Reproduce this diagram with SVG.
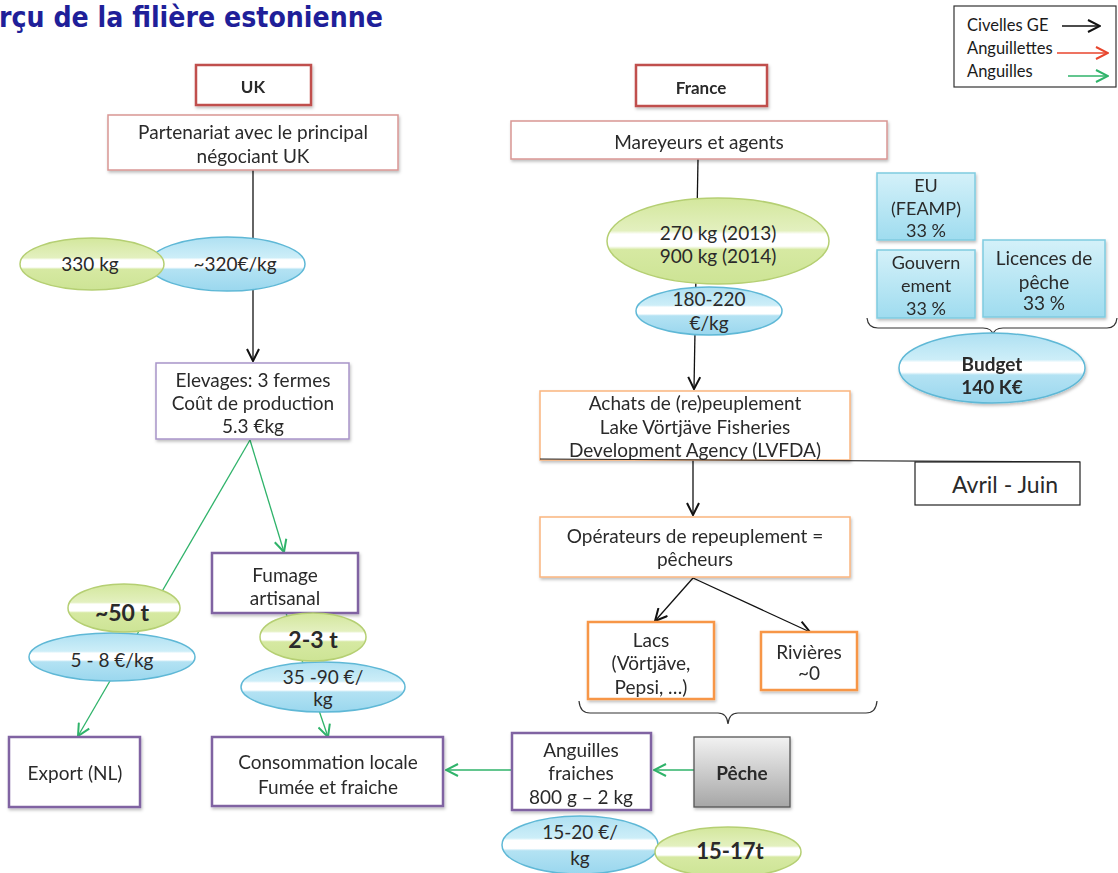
<svg xmlns="http://www.w3.org/2000/svg" width="1118" height="873" viewBox="0 0 1118 873">
<style>
text{font-family:Lato,"Liberation Sans",sans-serif;fill:#2a2a2a;font-size:19px;text-anchor:middle}
.b{font-weight:bold}
.big{font-weight:bold;font-size:23px}
.title{font-family:"DejaVu Sans","Liberation Sans",sans-serif;font-weight:bold;font-size:29px;fill:#1f1f99;text-anchor:start}
.leg{font-size:16.5px;text-anchor:start;fill:#1a1a1a}
.red2{fill:#fff;stroke:#c0504d;stroke-width:2.5}
.red1{fill:#fff;stroke:#d99694;stroke-width:1.5}
.pur1{fill:#fff;stroke:#a895c9;stroke-width:1.5}
.pur2{fill:#fff;stroke:#8064a2;stroke-width:2.5}
.or1{fill:#fff;stroke:#fab57f;stroke-width:1.5}
.or2{fill:#fff;stroke:#f79646;stroke-width:2.5}
.fund{fill:url(#gBlueBox);stroke:#7fcbe0;stroke-width:1.5}
.ft{font-size:18px}
.ge{fill:url(#gGreen);stroke:#b5cf73;stroke-width:1.5}
.be{fill:url(#gBlue);stroke:#5fb8d6;stroke-width:1.5}
.k{stroke:#111;stroke-width:1.3;fill:none}
.g{stroke:#2fb36a;stroke-width:1.3;fill:none}
.box{filter:url(#sh)}
</style>
<defs>
<linearGradient id="gGreen" x1="0" y1="0" x2="0" y2="1">
<stop offset="0" stop-color="#d3e79c"/>
<stop offset="0.38" stop-color="#e3f0bf"/>
<stop offset="0.42" stop-color="#ffffff"/>
<stop offset="0.56" stop-color="#ffffff"/>
<stop offset="0.6" stop-color="#d6e9a2"/>
<stop offset="1" stop-color="#cde495"/>
</linearGradient>
<linearGradient id="gBlue" x1="0" y1="0" x2="0" y2="1">
<stop offset="0" stop-color="#aee0f2"/>
<stop offset="0.38" stop-color="#cdeef8"/>
<stop offset="0.42" stop-color="#ffffff"/>
<stop offset="0.56" stop-color="#ffffff"/>
<stop offset="0.6" stop-color="#b3e2f3"/>
<stop offset="1" stop-color="#9ad7ee"/>
</linearGradient>
<linearGradient id="gBlueBox" x1="0" y1="0" x2="0" y2="1">
<stop offset="0" stop-color="#d4f1f9"/>
<stop offset="1" stop-color="#9fdcef"/>
</linearGradient>
<linearGradient id="gGray" x1="0" y1="0" x2="0" y2="1">
<stop offset="0" stop-color="#f2f2f2"/>
<stop offset="1" stop-color="#a6a6a6"/>
</linearGradient>
<filter id="sh" x="-10%" y="-10%" width="120%" height="130%">
<feDropShadow dx="1" dy="2" stdDeviation="1.5" flood-color="#000" flood-opacity="0.25"/>
</filter>
<marker id="ak" viewBox="0 0 14 14" refX="13" refY="7" markerWidth="14" markerHeight="14" markerUnits="userSpaceOnUse" orient="auto">
<path d="M1,1 L13,7 L1,13" fill="none" stroke="#111" stroke-width="2"/>
</marker>
<marker id="ag" viewBox="0 0 14 14" refX="13" refY="7" markerWidth="14" markerHeight="14" markerUnits="userSpaceOnUse" orient="auto">
<path d="M1,1 L13,7 L1,13" fill="none" stroke="#2fb36a" stroke-width="2"/>
</marker>
<marker id="ar" viewBox="0 0 14 14" refX="13" refY="7" markerWidth="14" markerHeight="14" markerUnits="userSpaceOnUse" orient="auto">
<path d="M1,1 L13,7 L1,13" fill="none" stroke="#e8452c" stroke-width="2"/>
</marker>
</defs>
<rect width="1118" height="873" fill="#fff"/>
<text class="title" x="-1" y="27" textLength="384" lengthAdjust="spacingAndGlyphs">rçu de la filière estonienne</text>

<g id="legend">
<rect x="954" y="6" width="162" height="81" fill="#fff" stroke="#333" stroke-width="1.2"/>
<text class="leg" x="967" y="31">Civelles GE</text>
<text class="leg" x="967" y="54">Anguillettes</text>
<text class="leg" x="967" y="77">Anguilles</text>
<line x1="1062" y1="26" x2="1100" y2="26" stroke="#111" stroke-width="1.3" marker-end="url(#ak)"/>
<line x1="1057" y1="53" x2="1108" y2="53" stroke="#e8452c" stroke-width="1.3" marker-end="url(#ar)"/>
<line x1="1068" y1="76" x2="1108" y2="76" stroke="#2fb36a" stroke-width="1.3" marker-end="url(#ag)"/>
</g>

<g id="connectors">
<line class="k" x1="253" y1="170" x2="253" y2="361" marker-end="url(#ak)"/>
<line class="g" x1="250" y1="440" x2="78" y2="736" marker-end="url(#ag)"/>
<line class="g" x1="250" y1="440" x2="284" y2="552" marker-end="url(#ag)"/>
<line class="g" x1="286" y1="613" x2="328" y2="737" marker-end="url(#ag)"/>
<line class="g" x1="511" y1="770" x2="446" y2="770" marker-end="url(#ag)"/>
<line class="g" x1="694" y1="770" x2="654" y2="770" marker-end="url(#ag)"/>
<line class="k" x1="698" y1="159" x2="694" y2="389" marker-end="url(#ak)"/>
<line class="k" x1="693" y1="460" x2="693" y2="515" marker-end="url(#ak)"/>
<line class="k" x1="693" y1="578" x2="655" y2="621" marker-end="url(#ak)"/>
<line class="k" x1="693" y1="578" x2="810" y2="632" marker-end="url(#ak)"/>
<path d="M579,701 Q580,713 590,713 L718,713 Q727,713 728,724 Q729,713 738,713 L866,713 Q876,713 877,701" fill="none" stroke="#333" stroke-width="1.2"/>
<path d="M867,318 Q868,328 878,328 L983,328 Q992,328 993,335 Q994,328 1003,328 L1107,328 Q1116,328 1117,318" fill="none" stroke="#333" stroke-width="1.2"/>
</g>

<g id="n-uk" class="box"><rect class="red2" x="196" y="65" width="115" height="40"/><text class="b" x="253" y="93" style="font-size:17px">UK</text></g>
<g id="n-partenariat" class="box"><rect class="red1" x="108" y="115" width="290" height="55"/>
<text x="253" y="139">Partenariat avec le principal</text><text x="253" y="163">négociant UK</text></g>

<g id="n-330kg-price">
<ellipse class="be" cx="227" cy="264" rx="78" ry="27"/>
<text x="235" y="271">~320€/kg</text>
<text x="145" y="270" style="fill:#5fb8d6;font-size:15px">(</text>
</g>
<g id="n-330kg">
<ellipse class="ge" cx="92" cy="264" rx="72" ry="26"/>
<text x="90" y="271">330 kg</text>
</g>

<g id="n-elevages" class="box"><rect class="pur1" x="156" y="363" width="193" height="76"/>
<text x="253" y="387">Elevages: 3 fermes</text><text x="253" y="410">Coût de production</text><text x="253" y="433">5.3 €kg</text></g>

<g id="n-50t-price"><ellipse class="be" cx="112" cy="657" rx="83" ry="24"/><text x="112" y="667">5 - 8 €/kg</text></g>
<g id="n-50t"><ellipse class="ge" cx="124" cy="608" rx="56" ry="24"/><text class="big" x="122" y="621">~50 t</text></g>

<g id="n-fumage" class="box"><rect class="pur2" x="212" y="553" width="146" height="60"/>
<text x="285" y="582">Fumage</text><text x="285" y="605">artisanal</text></g>

<g id="n-23t-price"><ellipse class="be" cx="323" cy="687" rx="82" ry="25"/><text x="323" y="684">35 -90 €/</text><text x="323" y="706">kg</text></g>
<g id="n-23t"><ellipse class="ge" cx="313" cy="637" rx="53" ry="24"/><text class="big" x="313" y="648">2-3 t</text></g>

<g id="n-export" class="box"><rect class="pur2" x="9" y="737" width="131" height="70"/><text x="75" y="780">Export (NL)</text></g>
<g id="n-consommation" class="box"><rect class="pur2" x="212" y="737" width="231" height="69"/>
<text x="328" y="769">Consommation locale</text><text x="328" y="794">Fumée et fraiche</text></g>

<g id="n-france" class="box"><rect class="red2" x="636" y="65" width="131" height="41"/><text class="b" x="701" y="94" style="font-size:17px">France</text></g>
<g id="n-mareyeurs" class="box"><rect class="red1" x="511" y="121" width="376" height="38"/><text x="699" y="149">Mareyeurs et agents</text></g>

<g id="n-270kg"><ellipse class="ge" cx="718" cy="241" rx="111" ry="43"/>
<text x="718" y="240">270 kg (2013)</text><text x="718" y="263">900 kg (2014)</text></g>
<g id="n-180-220"><ellipse class="be" cx="709" cy="311" rx="73" ry="24"/>
<text x="709" y="306">180-220</text><text x="709" y="330">€/kg</text></g>

<g id="n-eu" class="box"><rect class="fund" x="877" y="173" width="98" height="67"/>
<text class="ft" x="926" y="192">EU</text><text class="ft" x="926" y="215">(FEAMP)</text><text class="ft" x="926" y="237">33 %</text></g>
<g id="n-gouv" class="box"><rect class="fund" x="877" y="250" width="98" height="68"/>
<text class="ft" x="926" y="269">Gouvern</text><text class="ft" x="926" y="292">ement</text><text class="ft" x="926" y="315">33 %</text></g>
<g id="n-licences" class="box"><rect class="fund" x="983" y="240" width="122" height="77"/>
<text x="1044" y="265">Licences de</text><text x="1044" y="289">pêche</text><text x="1044" y="310">33 %</text></g>
<g id="n-budget" class="box"><ellipse class="be" cx="992" cy="368" rx="93" ry="35"/>
<text class="b" x="992" y="371">Budget</text><text class="b" x="992" y="394">140 K€</text></g>

<g id="n-achats" class="box"><rect class="or1" x="540" y="391" width="310" height="69"/>
<text x="695" y="410">Achats de (re)peuplement</text><text x="695" y="434">Lake Vörtjäve Fisheries</text><text x="695" y="457">Development Agency (LVFDA)</text></g>
<g id="n-avril">
<line x1="540" y1="459" x2="1080" y2="462" stroke="#222" stroke-width="1.2"/>
<rect x="915" y="462" width="165" height="43" fill="#fff" stroke="#222" stroke-width="1.2"/>
<text x="1005" y="493" style="font-size:23px">Avril - Juin</text></g>

<g id="n-operateurs" class="box"><rect class="or1" x="540" y="517" width="310" height="60"/>
<text x="695" y="543">Opérateurs de repeuplement  =</text><text x="695" y="566">pêcheurs</text></g>
<g id="n-lacs" class="box"><rect class="or2" x="588" y="622" width="126" height="77"/>
<text x="651" y="647">Lacs</text><text x="651" y="670">(Vörtjäve,</text><text x="651" y="694">Pepsi, …)</text></g>
<g id="n-rivieres" class="box"><rect class="or2" x="761" y="632" width="96" height="58"/>
<text x="809" y="659">Rivières</text><text x="809" y="680">~0</text></g>

<g id="n-peche" class="box"><rect x="694" y="737" width="96" height="70" fill="url(#gGray)" stroke="#555" stroke-width="1.3"/>
<text class="b" x="742" y="780">Pêche</text></g>
<g id="n-anguilles" class="box"><rect class="pur2" x="512" y="733" width="139" height="77"/>
<text x="581" y="757">Anguilles</text><text x="581" y="780">fraiches</text><text x="581" y="804">800 g – 2 kg</text></g>
<g id="n-1520"><ellipse class="be" cx="580" cy="845" rx="78" ry="29"/>
<text x="580" y="839">15-20 €/</text><text x="580" y="865">kg</text></g>
<g id="n-1517"><ellipse class="ge" cx="728" cy="852" rx="73" ry="25"/>
<text class="b" x="730" y="859" style="font-size:22px">15-17t</text></g>
</svg>
